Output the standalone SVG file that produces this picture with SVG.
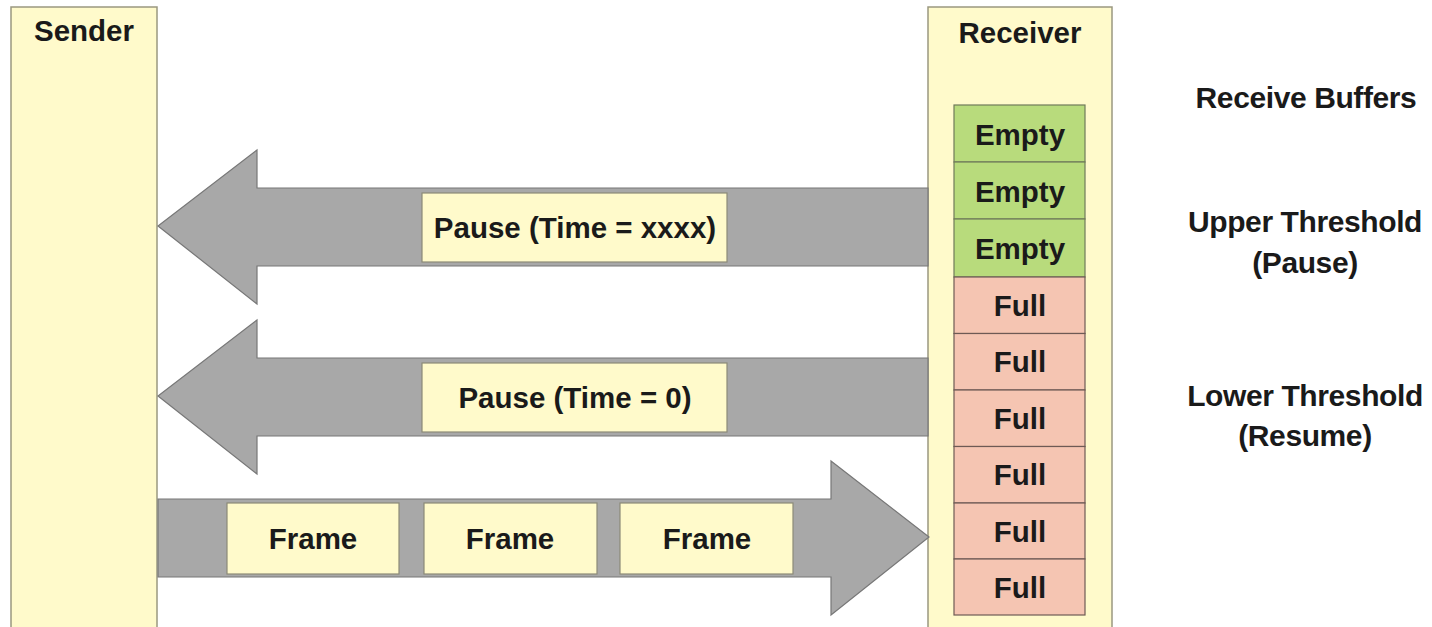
<svg xmlns="http://www.w3.org/2000/svg" width="1432" height="627" viewBox="0 0 1432 627">
<style>
.col{fill:#FFFACB;stroke:#9A9880;stroke-width:1.5}
.box{fill:#FFFACB;stroke:#8C8A78;stroke-width:1.2}
.arr{fill:#A8A8A8;stroke:#777;stroke-width:1.2}
.emp{fill:#B8DB7C;stroke:#6F7A5A;stroke-width:1.2}
.full{fill:#F5C5B2;stroke:#6E5A55;stroke-width:1.2}
text{font-family:"Liberation Sans",Arial,sans-serif;font-weight:bold;fill:#1a1a1a;text-anchor:middle}
.t{font-size:29.5px}
.side{font-size:30px;letter-spacing:-0.4px}
</style>
<rect width="1432" height="627" fill="#fff"/>
<g id="sender">
<rect class="col" x="11" y="7" width="146" height="625"/>
<text class="t" x="84" y="41">Sender</text>
</g>
<g id="receiver">
<rect class="col" x="928" y="7" width="184" height="625"/>
<text class="t" x="1020" y="43">Receiver</text>
</g>
<g id="buffers">
<rect class="emp" x="954" y="105" width="131" height="57"/>
<rect class="emp" x="954" y="162" width="131" height="57"/>
<rect class="emp" x="954" y="219" width="131" height="58"/>
<rect class="full" x="954" y="277" width="131" height="56.5"/>
<rect class="full" x="954" y="333.5" width="131" height="56.5"/>
<rect class="full" x="954" y="390" width="131" height="56.5"/>
<rect class="full" x="954" y="446.5" width="131" height="56.5"/>
<rect class="full" x="954" y="503" width="131" height="56"/>
<rect class="full" x="954" y="559" width="131" height="56"/>
<text class="t" x="1020" y="145">Empty</text>
<text class="t" x="1020" y="202">Empty</text>
<text class="t" x="1020" y="259">Empty</text>
<text class="t" x="1020" y="316">Full</text>
<text class="t" x="1020" y="372">Full</text>
<text class="t" x="1020" y="429">Full</text>
<text class="t" x="1020" y="485">Full</text>
<text class="t" x="1020" y="542">Full</text>
<text class="t" x="1020" y="598">Full</text>
</g>
<g id="connectors">
<polygon class="arr" points="928,188 257,188 257,150 158,226 257,304 257,266 928,266"/>
<polygon class="arr" points="928,358 257,358 257,320 158,396 257,474 257,436 928,436"/>
<polygon class="arr" points="158,499 831,499 831,461 929,537 831,615 831,577 158,577"/>
</g>
<g id="pause1">
<rect class="box" x="422" y="193" width="305" height="69"/>
<text class="t" x="575" y="238">Pause (Time = xxxx)</text>
</g>
<g id="pause2">
<rect class="box" x="422" y="363" width="305" height="69"/>
<text class="t" x="575" y="408">Pause (Time = 0)</text>
</g>
<g id="frame1">
<rect class="box" x="227" y="503" width="172" height="71"/>
<text class="t" x="313" y="549">Frame</text>
</g>
<g id="frame2">
<rect class="box" x="424" y="503" width="173" height="71"/>
<text class="t" x="510" y="549">Frame</text>
</g>
<g id="frame3">
<rect class="box" x="620" y="503" width="173" height="71"/>
<text class="t" x="707" y="549">Frame</text>
</g>
<g id="labels">
<text class="side" x="1306" y="108">Receive Buffers</text>
<text class="side" x="1305" y="232">Upper Threshold</text>
<text class="side" x="1305" y="273">(Pause)</text>
<text class="side" x="1305" y="406">Lower Threshold</text>
<text class="side" x="1305" y="446">(Resume)</text>
</g>
</svg>
